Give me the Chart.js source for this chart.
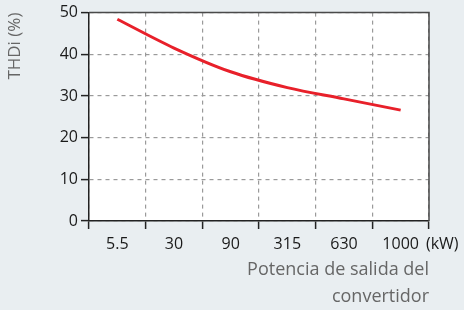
<!DOCTYPE html>
<html>
<head>
<meta charset="utf-8">
<script src="https://cdn.jsdelivr.net/npm/chart.js@4"></script>
<style>
    html, body { margin: 0; padding: 0; background: #e9eef1; }
    #wrap { position: relative; width: 464px; height: 310px; }
    #plotbg { position: absolute; background: #ffffff; }
    #thdi-chart { position: absolute; left: 0; top: 0; }
</style>
</head>
<body>
<div id="wrap">
    <div id="plotbg"></div>
    <canvas id="thdi-chart" width="464" height="310"></canvas>
</div>
<script>
// 数据
const potencias = ['5.5', '30', '90', '315', '630', '1000'];
const thdiValues = [48.4, 41.5, 35.8, 32.0, 29.3, 26.6];
const yTicks = [0, 10, 20, 30, 40, 50];

const FONT = '"Open Sans", "Noto Sans", sans-serif';

// 白底 + 上/右边框 + (kW)
const plotDecor = {
    id: 'plotDecor',
    beforeDatasetsDraw(chart) {
        // 先画白底（此时网格已画好，用 destination-over 放到下面）
        const { ctx, chartArea: a } = chart;
        ctx.save();
        ctx.globalCompositeOperation = 'destination-over';
        ctx.fillStyle = 'rgb(255,255,255)';
        ctx.fillRect(a.left, a.top, a.width, a.height);
        ctx.restore();
    },
    afterDraw(chart) {
        const { ctx, chartArea: a } = chart;
        ctx.save();
        ctx.strokeStyle = '#4a4a4a';
        ctx.lineWidth = 1.5;
        ctx.beginPath();
        ctx.moveTo(a.left, a.top);
        ctx.lineTo(a.right, a.top);
        ctx.lineTo(a.right, a.bottom);
        ctx.stroke();

        // 最后一个刻度后面的单位
        const x = chart.scales.x;
        const last = x.getPixelForTick(potencias.length - 1);
        ctx.font = '16px ' + FONT;
        const w = ctx.measureText(potencias[potencias.length - 1]).width;
        ctx.fillStyle = '#1a1a1a';
        ctx.textAlign = 'left';
        ctx.textBaseline = 'middle';
        ctx.fillText('(kW)', last + w / 2 + 7, 244);
        ctx.restore();
    }
};

const chart = new Chart(document.getElementById('thdi-chart'), {
    type: 'line',
    data: {
        labels: potencias,
        datasets: [{
            data: thdiValues,
            borderColor: '#e8202a',
            borderWidth: 3,
            pointRadius: 0,
            tension: 0.4,
            cubicInterpolationMode: 'monotone',
            fill: false
        }]
    },
    plugins: [plotDecor],
    options: {
        responsive: false,
        animation: false,
        layout: { padding: { top: 10, right: 35, left: 0, bottom: 0 } },
        plugins: {
            legend: { display: false },
            tooltip: { enabled: false }
        },
        scales: {
            x: {
                offset: true,
                grid: {
                    offset: true,
                    color: '#9a9a9a',
                    lineWidth: 1.2,
                    drawTicks: true,
                    tickLength: 8,
                    tickColor: '#222',
                    tickWidth: 1.5,
                    tickBorderDash: []
                },
                border: { display: true, color: '#222', width: 1.5, dash: [4, 4] },
                ticks: {
                    color: '#1a1a1a',
                    font: { family: FONT, size: 16 },
                    padding: 6,
                    maxRotation: 0
                },
                title: {
                    display: true,
                    text: ['Potencia de salida del', 'convertidor'],
                    align: 'end',
                    color: '#666',
                    font: { family: FONT, size: 18, lineHeight: 1.5 },
                    padding: { top: 1, bottom: 0 }
                },
                afterFit(scale) { scale.height = 89; }
            },
            y: {
                min: 0,
                max: 50,
                afterBuildTicks(scale) { scale.ticks = yTicks.map(v => ({ value: v })); },
                grid: {
                    color: '#9a9a9a',
                    lineWidth: 1.2,
                    tickLength: 8,
                    tickColor: '#222',
                    tickWidth: 1.5,
                    tickBorderDash: []
                },
                border: { display: true, color: '#222', width: 1.5, dash: [4, 4] },
                ticks: {
                    color: '#1a1a1a',
                    font: { family: FONT, size: 16 },
                    padding: 3
                },
                title: {
                    display: true,
                    text: 'THDi (%)',
                    align: 'end',
                    color: '#666',
                    font: { family: FONT, size: 17 },
                    padding: { top: 5, bottom: 16 }
                },
                afterFit(scale) { scale.width = 89; }
            }
        }
    }
});

// 白色绘图区背景（DOM 备用）
const area = chart.chartArea;
const bg = document.getElementById('plotbg');
bg.style.left = area.left + 'px';
bg.style.top = area.top + 'px';
bg.style.width = (area.right - area.left) + 'px';
bg.style.height = (area.bottom - area.top) + 'px';
</script>
</body>
</html>
